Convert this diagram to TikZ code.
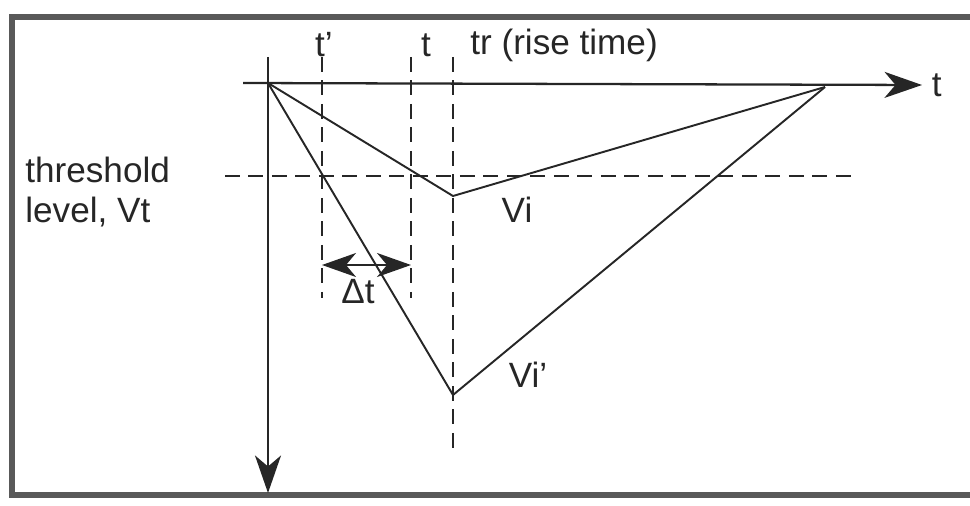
\documentclass[tikz,border=0pt]{standalone}
\usepackage{fontspec}
\setmainfont{Liberation Sans}
\usetikzlibrary{arrows.meta}
\begin{document}
\begin{tikzpicture}[x=0.02cm, y=-0.02cm, font=\fontsize{20}{23}\selectfont,
		axis/.style={line width=1.3pt, draw=black!85, -{Stealth[length=0.75cm, width=0.52cm, inset=0.22cm]}},
		dline/.style={line width=1.1pt, draw=black!85, dash pattern=on 0.3cm off 0.17cm},
		curve/.style={line width=1.1pt, draw=black!85},
		dtip/.tip={Stealth[length=0.68cm, width=0.48cm, inset=0.2cm]},
		lbl/.style={inner sep=0pt, text=black!85}]
		\useasboundingbox (0,0) rectangle (970,506);
		% Rahmen (rechts abgeschnitten)
		\draw[line width=3pt, black!65] (975,17) -- (12,17) -- (12,495) -- (975,495);
		% Achsen
		\coordinate (O) at (268,83);
		\coordinate (Ttop) at (268,57);
		\coordinate (tend) at (922,85);
		\coordinate (vend) at (268,493);
		\draw[axis] (243,83) -- (tend) node[right=5pt, lbl]{t};
		\draw[axis] (Ttop) -- (vend);
		% Schwelle und Zeitmarken
		\draw[dline] (225,176) -- (855,176);
		\foreach \x/\yb in {322/298,411/298,453/452}{
			\draw[dline] (\x,57) -- (\x,\yb);
		}
		\node[lbl] (tp) at (324,45) {t'};
		\node[lbl] (tt) at (426,45) {t};
		\node[lbl, anchor=west] (tr) at (470,45) {tr (rise time)};
		% Signale
		\coordinate (Vi) at (453,196);
		\coordinate (Vip) at (453,395);
		\coordinate (E) at (825,87);
		\draw[curve] (O) -- (Vi) -- (E);
		\draw[curve] (O) -- (Vip) -- (E);
		\node[lbl] (vi) at (517,210) {Vi};
		\node[lbl] (vip) at (528,375) {Vi'};
		% Delta t
		\coordinate (d1) at (322,265);
		\coordinate (d2) at (411,265);
		\draw[line width=1.1pt, black!85, dtip-dtip] (d1) -- (d2);
		\node[lbl] (dt) at (358,292) {Δt};
		\node[lbl, anchor=west, align=left] (thr) at (25,192) {threshold\\level, Vt};
	\end{tikzpicture}
\end{document}
